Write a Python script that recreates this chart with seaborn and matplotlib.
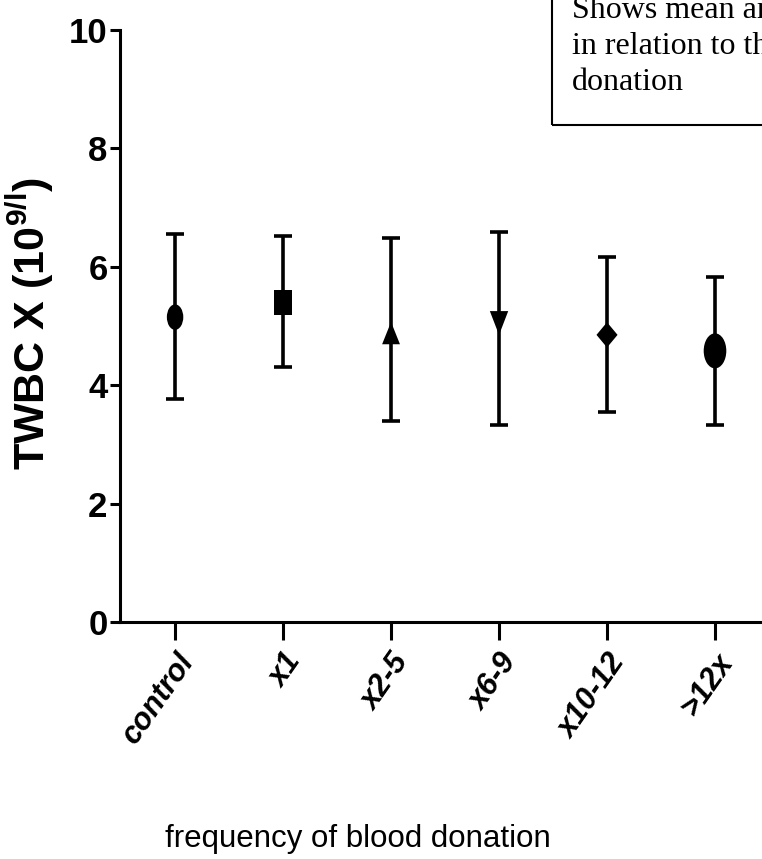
import matplotlib
matplotlib.use("Agg")
import matplotlib.pyplot as plt
import seaborn as sns
import pandas as pd
from matplotlib.patches import Rectangle
from matplotlib.markers import MarkerStyle
from matplotlib.transforms import Affine2D

groups = ["control", "x1", "x2-5", "x6-9", "x10-12", ">12x"]
means = [5.15, 5.40, 4.88, 5.05, 4.85, 4.58]
upper = [6.56, 6.52, 6.49, 6.59, 6.16, 5.83]
lower = [3.76, 4.31, 3.40, 3.33, 3.54, 3.32]
yticks = [0, 2, 4, 6, 8, 10]

# marker shapes (the source image is vertically stretched, so markers are taller than wide)
marker_specs = [("o", 1.55), ("s", 1.35), ("^", 1.25), ("v", 1.3), ("D", 1.2), ("o", 1.55)]
marker_sizes = [140, 170, 165, 175, 115, 265]

sns.set_style("ticks")
plt.rcParams["font.family"] = ["Liberation Sans", "DejaVu Sans"]
plt.rcParams["text.color"] = "black"
plt.rcParams["axes.labelcolor"] = "black"
plt.rcParams["xtick.color"] = "black"
plt.rcParams["ytick.color"] = "black"
plt.rcParams["mathtext.fontset"] = "custom"
plt.rcParams["mathtext.rm"] = "Liberation Sans"
plt.rcParams["mathtext.bf"] = "Liberation Sans:bold"

W, H = 762, 859
fig = plt.figure(figsize=(W / 100, H / 100), dpi=100)
ax = fig.add_axes([120 / W, (H - 622) / H, (W - 120) / W, (622 - 30) / H])

df = pd.DataFrame({"group": groups, "mean": means, "lo": lower, "hi": upper})
df["x"] = range(len(groups))

ax.errorbar(df["x"], df["mean"],
            yerr=[df["mean"] - df["lo"], df["hi"] - df["mean"]],
            fmt="none", ecolor="black", elinewidth=2.6, capsize=6.5, capthick=2.6, zorder=2)

markers = {g: MarkerStyle(m, transform=Affine2D().scale(1.0, sy))
           for g, (m, sy) in zip(groups, marker_specs)}
sns.scatterplot(data=df, x="x", y="mean", style="group", markers=markers,
                size="group", sizes=dict(zip(groups, marker_sizes)),
                color="black", edgecolor="black", linewidth=0, legend=False, ax=ax, zorder=3)

ax.set_xlim(-0.51, (W - 175) / 108.0)
ax.set_ylim(0, 10)
ax.set_yticks(yticks)
ax.set_xticks(df["x"])
ax.set_xticklabels(groups, rotation=55, ha="right", va="top", rotation_mode="anchor",
                   fontsize=22, fontweight="bold", fontstyle="italic")
ax.set_yticklabels([str(v) for v in yticks], fontsize=25, fontweight="bold")
ax.tick_params(axis="y", length=7.5, width=2.2, pad=1.5)
ax.tick_params(axis="x", length=13, width=2.2, pad=6)
for s in ["top", "right"]:
    ax.spines[s].set_visible(False)
for s in ["left", "bottom"]:
    ax.spines[s].set_linewidth(2.2)
    ax.spines[s].set_color("black")

ax.set_xlabel("frequency of blood donation", fontsize=22.5)
ax.xaxis.set_label_coords((358 - 120) / 642, (622 - 847) / 592)
ax.xaxis.label.set_va("baseline")
ax.set_ylabel(r"TWBC X (10$^{\mathbf{9/l}}$)", fontsize=31, fontweight="bold")
ax.yaxis.set_label_coords((56 - 120) / 642, 0.5 - (324 - 326) / 592)

fig.patches.append(Rectangle((552 / W, (H - 125) / H), 0.5, 0.5, transform=fig.transFigure,
                             fill=False, edgecolor="black", linewidth=1.5))
box_lines = ["Shows mean and SD of TWBC", "in relation to the frequency of", "donation"]
box_baselines = [18, 54, 90]
for line, yb in zip(box_lines, box_baselines):
    fig.text(572 / W, (H - yb) / H, line, fontsize=23,
             family=["Liberation Serif", "DejaVu Serif"], va="baseline", ha="left", color="black")

fig.savefig("out.png", dpi=100)
